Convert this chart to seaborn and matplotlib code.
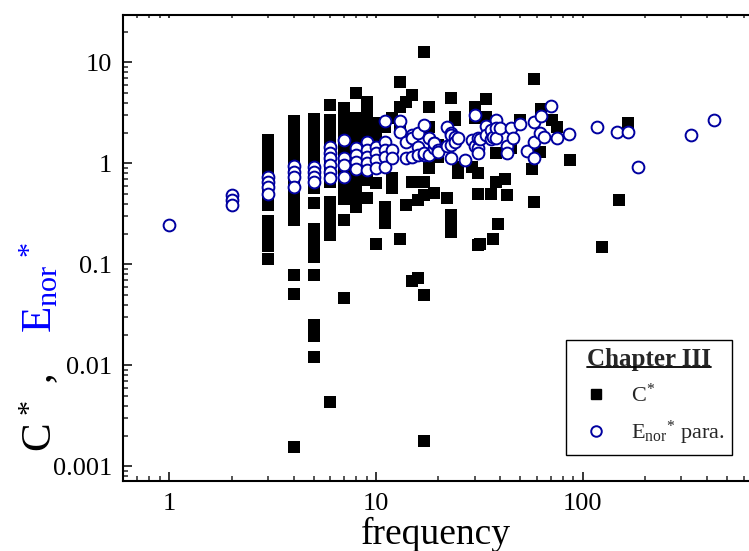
import numpy as np
import pandas as pd
import matplotlib
matplotlib.use("Agg")
import matplotlib.pyplot as plt
import seaborn as sns
from matplotlib.lines import Line2D
from matplotlib.ticker import LogLocator, FuncFormatter, NullFormatter

# ---------------- data ----------------
# C* (black squares)
c_freq = ([3] * 14 + [4] * 17 + [5] * 19 + [6] * 16 + [7] * 14 + [8] * 13 + [9] * 12
          + [10] * 6 + [11] * 4 + [12] * 3 + [13] * 4 + [14] * 2 + [15] * 3 + [16] * 2
          + [17] * 5 + [18] * 3 + [19, 20, 20, 22] + [23] * 4 + [24, 24, 25, 25, 29, 30, 30]
          + [31, 31, 31, 32, 34, 34, 36, 37, 38, 38, 39, 42, 43, 45, 50, 57, 58, 58,
             62, 63, 71, 75, 87, 124, 150, 165])
c_val = ([1.71, 1.45, 1.2, 1.0, 0.84, 0.70, 0.58, 0.48, 0.39, 0.27, 0.23, 0.175, 0.152, 0.113]
         + [2.63, 2.2, 1.85, 1.55, 1.3, 1.1, 0.92, 0.77, 0.65, 0.54, 0.45, 0.38, 0.32, 0.273,
            0.0787, 0.051, 0.00156]
         + [2.76, 2.3, 1.95, 1.63, 1.37, 1.15, 0.96, 0.8, 0.67, 0.566, 0.407, 0.225, 0.19,
            0.156, 0.119, 0.078, 0.0249, 0.0196, 0.012]
         + [3.75, 2.7, 2.25, 1.9, 1.6, 1.33, 1.12, 0.94, 0.79, 0.66, 0.416, 0.35, 0.29, 0.25,
            0.194, 0.0043]
         + [3.52, 2.7, 2.3, 1.95, 1.63, 1.37, 1.15, 0.96, 0.8, 0.67, 0.56, 0.445, 0.276, 0.0466]
         + [4.95, 2.8, 2.35, 2.0, 1.7, 1.45, 1.2, 1.0, 0.85, 0.72, 0.57, 0.45, 0.37]
         + [4.1, 3.26, 2.7, 2.3, 1.95, 1.65, 1.4, 1.18, 1.0, 0.85, 0.69, 0.455]
         + [2.5, 2.1, 1.8, 1.5, 0.64, 0.16]
         + [2.3, 0.37, 0.31, 0.26]
         + [2.8, 0.71, 0.57]
         + [6.45, 3.65, 2.3, 0.18]
         + [4.09, 0.39]
         + [4.77, 0.66, 0.069]
         + [0.435, 0.074]
         + [12.6, 0.66, 0.49, 0.0497, 0.0018]
         + [3.65, 2.3, 0.9]
         + [0.51, 1.52, 1.17, 0.45]
         + [4.42, 0.31, 0.255, 0.21]
         + [2.9, 2.7, 0.93, 0.8, 0.93, 3.65, 2.8]
         + [0.8, 0.5, 0.155, 0.16, 4.35, 2.9, 0.5, 0.18, 1.26, 0.66, 0.25, 0.70, 0.49, 1.41,
            2.7, 0.876, 6.82, 0.42, 1.31, 3.44, 2.7, 2.28, 1.08, 0.148, 0.435, 2.5])

# E_nor* para. (blue open circles)
e_freq = ([1, 2, 2, 2, 3, 3, 3, 3, 4, 4, 4, 4, 5, 5, 5, 5]
          + [6] * 6 + [7] * 4 + [8] * 4 + [9] * 5 + [10] * 4 + [11] * 5 + [12, 12, 13, 13, 14, 14]
          + [15, 15, 15, 16, 16, 16, 17, 17, 17, 18, 18, 19, 19, 19, 20, 20, 22, 22]
          + [23, 23, 23, 23, 24, 24, 25, 27, 29, 30, 30, 31, 31, 31, 32, 34, 34, 36, 36, 37]
          + [38, 38, 38, 40, 43, 43, 45, 46, 50, 54, 58, 58, 58, 62, 63, 65, 70, 75, 86]
          + [117, 146, 166, 185, 335, 430])
e_val = ([0.246, 0.49, 0.435, 0.388, 0.73, 0.66, 0.59, 0.50, 0.94, 0.83, 0.74, 0.58,
          0.93, 0.83, 0.74, 0.66]
         + [1.47, 1.26, 1.13, 0.97, 0.83, 0.71]
         + [1.71, 1.13, 0.97, 0.73]
         + [1.41, 1.21, 1.04, 0.88]
         + [1.64, 1.36, 1.17, 1.0, 0.86]
         + [1.47, 1.26, 1.08, 0.9]
         + [2.65, 1.64, 1.36, 1.17, 0.93]
         + [1.36, 1.13, 2.65, 2.06, 1.64, 1.13]
         + [1.92, 1.78, 1.15, 1.47, 1.21, 1.99, 2.4, 1.21, 1.26, 1.21, 1.78, 1.41, 1.58, 1.61,
            1.36, 1.31, 2.3, 1.49]
         + [2.0, 1.92, 1.13, 1.52, 1.84, 1.64, 1.78, 1.08, 1.71, 3.02, 1.49, 1.41, 1.26, 1.78,
            1.73, 2.35, 1.92, 2.15, 1.73, 1.84]
         + [2.7, 2.23, 1.78, 2.23, 1.49, 1.28, 2.23, 1.78, 2.46, 1.34, 2.59, 1.64, 1.13, 2.02,
            2.95, 1.82, 3.74, 1.78, 1.95]
         + [2.3, 2.05, 2.05, 0.93, 1.93, 2.7])

x_ticks = [1, 10, 100]
y_ticks = [0.001, 0.01, 0.1, 1, 10]
legend_title = "Chapter III"
legend_labels = [r"$\mathregular{C^{*}}$", r"$\mathregular{E_{nor}{}^{*}}$ para."]

# ---------------- style ----------------
sns.set_theme(style="white")
plt.rcParams["font.family"] = ["Liberation Serif", "DejaVu Serif"]
plt.rcParams["mathtext.fontset"] = "custom"
plt.rcParams["mathtext.rm"] = "Liberation Serif"
plt.rcParams["mathtext.it"] = "Liberation Serif:italic"
plt.rcParams["mathtext.bf"] = "Liberation Serif:bold"

W, H = 749, 551
fig = plt.figure(figsize=(W / 100, H / 100), dpi=100)
ax = fig.add_axes([123.3 / W, 1 - 480.7 / H, (W - 123.3) / W, (480.7 - 15) / H])

df_c = pd.DataFrame({"frequency": c_freq, "value": c_val})
df_e = pd.DataFrame({"frequency": e_freq, "value": e_val})

blue_edge = "#0000a0"
sns.scatterplot(data=df_c, x="frequency", y="value", marker="s", color="black",
                s=72, linewidth=0, ax=ax, zorder=2, legend=False)
sns.scatterplot(data=df_e, x="frequency", y="value", marker="o", color="white",
                edgecolor=blue_edge, s=72, linewidth=1.4, ax=ax, zorder=3, legend=False)

ax.set_xscale("log")
ax.set_yscale("log")
ax.set_xlim(0.599, 637.6)
ax.set_ylim(7.23e-4, 29.5)

for side in ["left", "bottom", "top"]:
    ax.spines[side].set_linewidth(1.5)
    ax.spines[side].set_color("black")
ax.spines["right"].set_visible(False)

ax.xaxis.set_major_locator(LogLocator(base=10))
ax.xaxis.set_minor_locator(LogLocator(base=10, subs=np.arange(2, 10)))
ax.yaxis.set_major_locator(LogLocator(base=10))
ax.yaxis.set_minor_locator(LogLocator(base=10, subs=np.arange(2, 10), numticks=20))
fmt = FuncFormatter(lambda v, p: f"{v:g}")
ax.set_xticks(x_ticks)
ax.set_yticks(y_ticks)
ax.xaxis.set_major_formatter(fmt)
ax.yaxis.set_major_formatter(fmt)
ax.xaxis.set_minor_formatter(NullFormatter())
ax.yaxis.set_minor_formatter(NullFormatter())
ax.tick_params(axis="both", which="major", direction="in", length=6.5, width=1.1,
               labelsize=19, colors="black")
ax.tick_params(axis="both", which="minor", direction="in", length=3.4, width=1.1)
ax.tick_params(axis="x", which="major", pad=9)
ax.tick_params(axis="y", which="major", pad=8)
ax.tick_params(axis="y", which="both", right=False, left=True)
ax.tick_params(axis="x", which="both", bottom=True, top=True)
# very short ticks along the top edge
for t in ax.xaxis.get_major_ticks() + ax.xaxis.get_minor_ticks():
    t.tick2line.set_markersize(2)

ax.set_xlabel("frequency", fontsize=27, labelpad=1, color="black")
ax.set_ylabel("")
ax.grid(False)

# legend
handles = [
    Line2D([], [], marker="s", color="black", linestyle="none", markersize=7.6),
    Line2D([], [], marker="o", markerfacecolor="white", markeredgecolor=blue_edge,
           markeredgewidth=1.4, linestyle="none", markersize=7.6),
]
leg = ax.legend(handles, legend_labels, title=legend_title,
                title_fontproperties={"weight": "bold", "size": 18}, fontsize=16,
                loc="lower right", bbox_to_anchor=(0.973, 0.056), borderaxespad=0,
                frameon=True, fancybox=False, edgecolor="black", framealpha=1,
                handlelength=2.0, handletextpad=0.55, labelspacing=0.55, borderpad=0.35)
leg.get_frame().set_linewidth(1.0)

# y label: "C*, " black + "E_nor*" blue
fig.text(52 / W, 1 - 452 / H, r"$\mathregular{C^{\,*}}$ ,", rotation=90,
         rotation_mode="anchor", ha="left", va="baseline", fontsize=31, color="black")
fig.text(52 / W, 1 - 333 / H, r"$\mathregular{E_{nor}{}^{\,*}}$", rotation=90,
         rotation_mode="anchor", ha="left", va="baseline", fontsize=31, color="#0000ff")

# underline legend title
fig.canvas.draw()
r = fig.canvas.get_renderer()
tb = leg.get_title().get_window_extent(r)
inv = fig.transFigure.inverted()
x0, y0 = inv.transform((tb.x0, tb.y0 + 0.17 * (tb.y1 - tb.y0)))
x1, _ = inv.transform((tb.x1, tb.y0))
fig.add_artist(Line2D([x0, x1], [y0, y0], transform=fig.transFigure, color="black", lw=1.3))

fig.savefig("out.png", dpi=100)
